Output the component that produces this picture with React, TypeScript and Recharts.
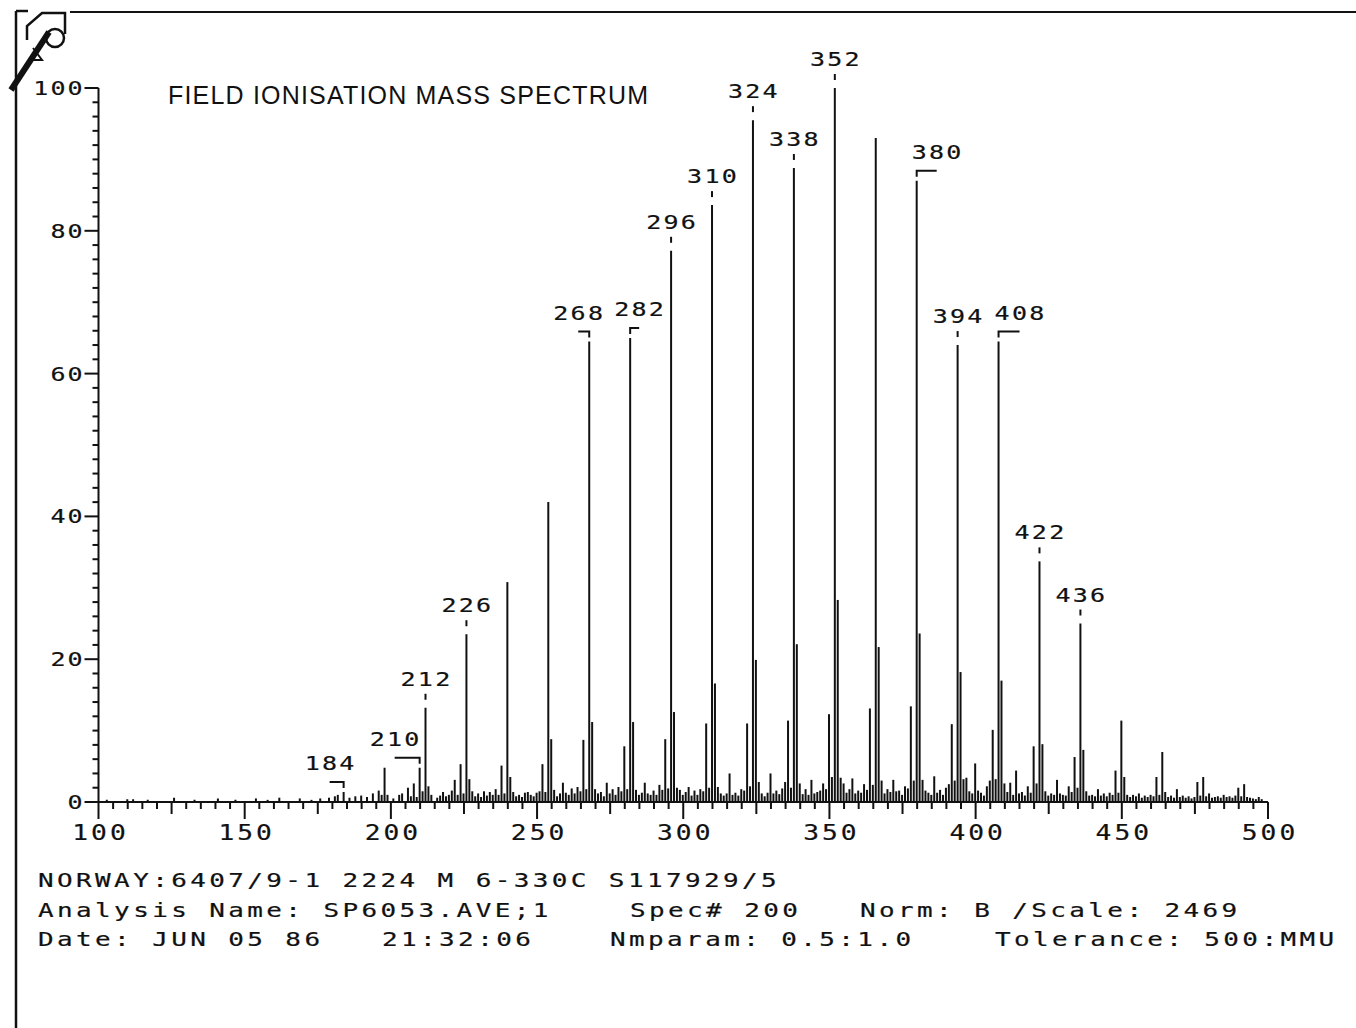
import React from 'react'
import { ComposedChart, Bar, XAxis, YAxis, LabelList } from 'recharts'

// m/z values and relative intensities (% of base peak 352)
const massesLow = [103, 110, 112, 117, 126, 133, 141, 147, 154, 158, 162, 169, 173, 176, 179, 181, 182, 184, 186, 188, 190, 192, 194, 196, 197, 198, 199]
const intensLow = [0.3, 0.4, 0.4, 0.3, 0.6, 0.3, 0.5, 0.3, 0.5, 0.3, 0.6, 0.5, 0.3, 0.5, 0.6, 0.8, 1.0, 1.4, 0.6, 0.8, 0.9, 0.7, 1.2, 1.6, 1.0, 4.8, 1.0]

const massesMid = [201, 203, 204, 206, 207, 208, 209, 210, 211, 212, 213, 214, 216, 217, 218, 219, 220, 221, 222, 223, 224, 225, 226, 227, 228, 229, 230, 231, 232, 233, 234, 235, 236, 237, 238, 239, 240, 241, 242, 243, 244, 245, 246, 247, 248, 249, 250, 251, 252, 253, 254, 255, 256, 257, 258, 259, 260, 261, 262, 263, 264, 265, 266, 267, 268, 269, 270, 271, 272, 273, 274, 275, 276, 277, 278, 279, 280, 281, 282, 283, 284, 285, 286, 287, 288, 289, 290, 291, 292, 293, 294, 295, 296, 297, 298, 299, 300]
const intensMid = [0.5, 1.0, 1.2, 2.0, 0.8, 2.6, 0.7, 4.8, 1.5, 13.2, 2.2, 1.0, 0.6, 0.9, 1.4, 0.8, 1.0, 1.6, 3.1, 1.0, 5.3, 1.2, 23.5, 3.2, 1.5, 0.8, 1.2, 0.7, 1.5, 0.9, 1.4, 1.0, 1.8, 1.0, 5.1, 1.2, 30.8, 3.5, 1.4, 0.8, 1.0, 0.7, 1.3, 1.4, 1.0, 0.8, 1.3, 1.5, 5.3, 1.4, 42.0, 8.8, 1.7, 0.8, 1.2, 2.7, 1.3, 1.0, 1.9, 1.2, 2.1, 1.5, 8.7, 1.8, 64.5, 11.2, 1.8, 1.2, 1.4, 0.8, 2.7, 1.2, 1.8, 1.0, 2.1, 1.5, 7.8, 1.8, 65.0, 11.2, 1.7, 1.0, 1.3, 2.7, 1.2, 1.0, 1.6, 1.0, 2.4, 1.7, 8.8, 1.9, 77.2, 12.6, 2.0, 1.7, 1.0]

const massesHigh = [301, 302, 303, 304, 305, 306, 307, 308, 309, 310, 311, 312, 313, 314, 315, 316, 317, 318, 319, 320, 321, 322, 323, 324, 325, 326, 327, 328, 329, 330, 331, 332, 333, 334, 335, 336, 337, 338, 339, 340, 341, 342, 343, 344, 345, 346, 347, 348, 349, 350, 351, 352, 353, 354, 355, 356, 357, 358, 359, 360, 361, 362, 363, 364, 365, 366, 367, 368, 369, 370, 371, 372, 373, 374, 375, 376, 377, 378, 379, 380, 381, 382, 383, 384, 385, 386, 387, 388, 389, 390, 391, 392, 393, 394, 395, 396, 397, 398, 399, 400]
const intensHigh = [1.4, 2.1, 0.9, 1.6, 1.0, 1.8, 1.5, 11.0, 2.0, 83.6, 16.6, 2.1, 1.2, 0.9, 1.2, 4.0, 1.0, 1.3, 0.9, 1.8, 1.6, 11.0, 2.2, 95.5, 19.9, 2.8, 1.2, 0.8, 1.3, 4.0, 1.2, 1.6, 1.1, 1.9, 2.8, 11.4, 2.0, 88.8, 22.1, 2.6, 1.1, 1.8, 1.0, 3.1, 1.2, 1.4, 1.6, 2.6, 1.8, 12.3, 3.5, 100, 28.3, 3.4, 2.6, 1.3, 1.8, 3.3, 1.2, 1.6, 1.3, 2.5, 1.7, 13.1, 2.4, 93.0, 21.7, 3.0, 1.2, 1.8, 1.4, 3.1, 1.5, 1.6, 1.0, 2.2, 1.9, 13.4, 3.0, 87.0, 23.6, 3.1, 1.6, 1.3, 1.0, 3.6, 1.3, 1.7, 1.0, 2.0, 2.5, 10.9, 3.0, 64.0, 18.2, 3.2, 3.4, 1.5, 1.2, 5.4]

const massesTail = [401, 402, 403, 404, 405, 406, 407, 408, 409, 410, 411, 412, 413, 414, 415, 416, 417, 418, 419, 420, 421, 422, 423, 424, 425, 426, 427, 428, 429, 430, 431, 432, 433, 434, 435, 436, 437, 438, 439, 440, 441, 442, 443, 444, 445, 446, 447, 448, 449, 450, 451, 452, 453, 454, 455, 456, 457, 458, 459, 460, 461, 462, 463, 464, 465, 466, 467, 468, 469, 470, 471, 472, 473, 474, 475, 476, 477, 478, 479, 480, 481, 482, 483, 484, 485, 486, 487, 488, 489, 490, 491, 492, 493, 494, 495, 496, 497, 498]
const intensTail = [1.6, 1.3, 0.9, 2.2, 3.0, 10.1, 3.2, 64.5, 17.0, 2.6, 1.4, 2.7, 1.0, 4.4, 1.2, 1.4, 0.9, 2.2, 1.3, 7.8, 2.6, 33.7, 8.1, 1.5, 0.9, 1.2, 1.0, 3.1, 1.2, 1.0, 0.9, 2.2, 1.4, 6.3, 2.0, 25.0, 7.3, 1.5, 0.9, 1.0, 0.8, 1.8, 0.9, 1.2, 0.8, 1.3, 1.0, 4.4, 1.3, 11.4, 3.5, 1.0, 0.7, 1.0, 0.8, 1.2, 0.6, 0.9, 0.7, 1.0, 0.8, 3.5, 1.0, 7.0, 1.4, 0.7, 0.9, 0.6, 1.8, 0.7, 0.9, 0.6, 0.8, 0.5, 0.7, 2.8, 0.9, 3.5, 0.8, 1.2, 0.6, 0.7, 0.8, 0.6, 1.0, 0.7, 0.8, 0.6, 0.9, 2.0, 0.8, 2.5, 0.7, 0.6, 0.5, 0.4, 0.7, 0.4]

// peaks carrying a mass label, and label offset in px (brackets where shifted)
const labelledMasses = [184, 210, 212, 226, 268, 282, 296, 310, 324, 338, 352, 380, 394, 408, 422, 436]
const labelShift: Record<number, number> = { 184: -14, 210: -25, 268: -11, 282: 9, 380: 20, 408: 21 }

const xLabels = [100, 150, 200, 250, 300, 350, 400, 450, 500]
const yLabels = [0, 20, 40, 60, 80, 100]

const title = 'FIELD IONISATION MASS SPECTRUM'
const footer1 = ['NORWAY:6407/9-1 2224 M 6-330C S117929/5']
const footer2 = ['Analysis Name: SP6053.AVE;1', 'Spec# 200', 'Norm: B /Scale: 2469']
const footer3 = ['Date: JUN 05 86', '21:32:06', 'Nmparam: 0.5:1.0', 'Tolerance: 500:MMU']

const data = [
  ...massesLow.map((m, i) => ({ mass: m, intensity: intensLow[i] })),
  ...massesMid.map((m, i) => ({ mass: m, intensity: intensMid[i] })),
  ...massesHigh.map((m, i) => ({ mass: m, intensity: intensHigh[i] })),
  ...massesTail.map((m, i) => ({ mass: m, intensity: intensTail[i] })),
]

const xTicks: number[] = []
for (let v = 100; v <= 500; v += 5) xTicks.push(v)
const yTicks: number[] = []
for (let v = 0; v <= 100; v += 2) yTicks.push(v)

const W = 1356
const H = 1028
const PLOT_LEFT = 98.5
const PLOT_BOTTOM = 802
const MONO = '"DejaVu Sans Mono", "Liberation Mono", monospace'
const INK = '#111'

// plotter-style wide monospace text: glyphs stretched horizontally
function Plot({ x, y, size = 20, sx = 1.3, ls = 2.6, anchor = 'start', children }: any) {
  return (
    <text transform={`translate(${x},${y}) scale(${sx},1)`} textAnchor={anchor} dominantBaseline="central"
      fontFamily={MONO} fontSize={size} letterSpacing={ls} fill={INK} stroke={INK} strokeWidth={0.2}>
      {children}
    </text>
  )
}

function YTick({ y, payload }: any) {
  const v = payload.value
  const major = yLabels.includes(v)
  return (
    <g>
      <line x1={PLOT_LEFT - (major ? 14 : 6)} x2={PLOT_LEFT} y1={y} y2={y} stroke={INK} strokeWidth={2} />
      {major && <Plot x={PLOT_LEFT - 14} y={y} size={20} sx={1.25} ls={1.6} anchor="end">{v}</Plot>}
    </g>
  )
}

function XTick({ x, payload }: any) {
  const v = payload.value
  const len = v % 50 === 0 ? 17 : v % 25 === 0 ? 12 : 7
  return (
    <g>
      <line x1={x} x2={x} y1={PLOT_BOTTOM} y2={PLOT_BOTTOM + len} stroke={INK} strokeWidth={2} />
      {xLabels.includes(v) && (
        <Plot x={x + 2} y={PLOT_BOTTOM + 31} size={21} sx={1.25} ls={2.4} anchor="middle">{v}</Plot>
      )}
    </g>
  )
}

function PeakLabel({ x, y, width, value }: any) {
  if (!labelledMasses.includes(value)) return null
  const cx = x + width / 2
  const shift = labelShift[value]
  if (shift !== undefined) {
    const by = y - 10
    return (
      <g>
        <polyline points={`${cx + shift},${by} ${cx},${by} ${cx},${by + 6}`} fill="none" stroke={INK} strokeWidth={2} />
        <Plot x={cx + shift + 1} y={by - 19} size={20} sx={1.25} ls={1.8} anchor="middle">{value}</Plot>
      </g>
    )
  }
  return (
    <g>
      <line x1={cx} x2={cx} y1={y - 14} y2={y - 8} stroke={INK} strokeWidth={2} />
      <Plot x={cx + 1} y={y - 29} size={20} sx={1.25} ls={1.8} anchor="middle">{value}</Plot>
    </g>
  )
}

export default function App() {
  return (
    <div style={{ position: 'absolute', left: 0, top: 0, width: W, height: H, background: '#fff' }}>
      <ComposedChart width={W} height={H} data={data}
        margin={{ top: 88, right: W - 1268, bottom: H - PLOT_BOTTOM - 60, left: PLOT_LEFT - 70 }}>
        <XAxis dataKey="mass" type="number" domain={[100, 500]} ticks={xTicks} interval={0}
          allowDataOverflow height={60} tickLine={false} axisLine={{ stroke: INK, strokeWidth: 2 }}
          tick={<XTick />} />
        <YAxis type="number" domain={[0, 100]} ticks={yTicks} interval={0} width={70}
          tickLine={false} axisLine={{ stroke: INK, strokeWidth: 2 }} tick={<YTick />} />
        <Bar dataKey="intensity" fill={INK} barSize={2} isAnimationActive={false}>
          <LabelList dataKey="mass" content={<PeakLabel />} />
        </Bar>
      </ComposedChart>

      <svg width={W} height={H} style={{ position: 'absolute', left: 0, top: 0, pointerEvents: 'none' }}>
        {/* page frame and corner mark */}
        <line x1={16} x2={16} y1={11} y2={H} stroke={INK} strokeWidth={2.5} />
        <line x1={16} x2={28} y1={11} y2={11} stroke={INK} strokeWidth={2.5} />
        <line x1={70} x2={W} y1={12} y2={12} stroke={INK} strokeWidth={2} />
        <polyline points="27,40 27,26 42,13 65,13 65,34" fill="none" stroke={INK} strokeWidth={2.5} />
        <circle cx={55} cy={38} r={9} fill="#fff" stroke={INK} strokeWidth={2.5} />
        <line x1={11} y1={90} x2={49} y2={32} stroke={INK} strokeWidth={6} />
        <polyline points="33,48 42,60 32,60" fill="none" stroke={INK} strokeWidth={2} />

        <text x={168} y={95} dominantBaseline="central" fontFamily='"Liberation Sans", Arial, sans-serif'
          fontSize={25} textLength={480} lengthAdjust="spacing" fill={INK}>{title}</text>

        <Plot x={38} y={880}>{footer1[0]}</Plot>
        <Plot x={38} y={910}>{footer2[0]}</Plot>
        <Plot x={630} y={910}>{footer2[1]}</Plot>
        <Plot x={860} y={910}>{footer2[2]}</Plot>
        <Plot x={38} y={939}>{footer3[0]}</Plot>
        <Plot x={382} y={939}>{footer3[1]}</Plot>
        <Plot x={610} y={939}>{footer3[2]}</Plot>
        <Plot x={995} y={939}>{footer3[3]}</Plot>
      </svg>
    </div>
  )
}
